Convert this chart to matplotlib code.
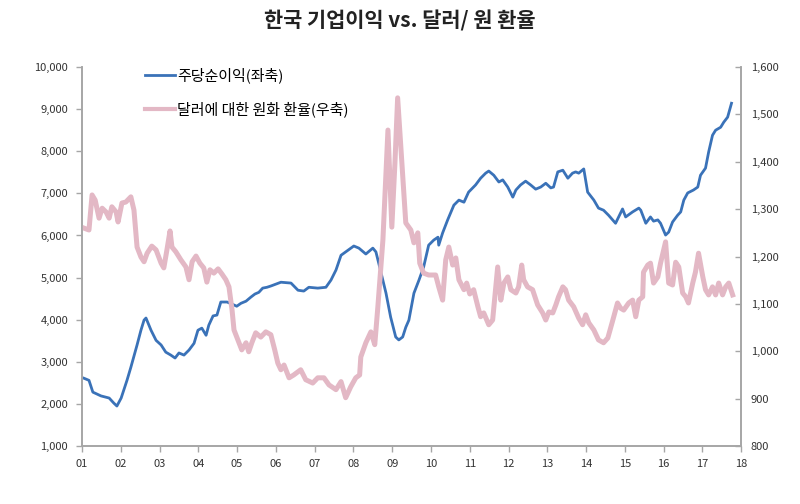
import numpy as np
import matplotlib
matplotlib.use('Agg')
import matplotlib.pyplot as plt
from matplotlib.ticker import FuncFormatter, FixedLocator

plt.rcParams['font.family'] = ['Noto Sans CJK KR', 'DejaVu Sans']

# EPS (left axis), x in decimal years
eps_t = [2001.05, 2001.18, 2001.28, 2001.49, 2001.70, 2001.82, 2001.90, 2002.01, 2002.16, 2002.26,
         2002.42, 2002.52, 2002.60, 2002.65, 2002.78, 2002.91, 2003.04, 2003.16, 2003.29, 2003.40,
         2003.50, 2003.63, 2003.76, 2003.89, 2003.99, 2004.09, 2004.20, 2004.27, 2004.38, 2004.48,
         2004.58, 2004.74, 2004.87, 2004.99, 2005.10, 2005.23, 2005.36, 2005.46, 2005.56, 2005.66,
         2005.77, 2005.87, 2006.13, 2006.39, 2006.57, 2006.72, 2006.85, 2007.08, 2007.29, 2007.42,
         2007.55, 2007.68, 2007.86, 2008.01, 2008.14, 2008.32, 2008.50, 2008.58, 2008.65, 2008.84,
         2008.96, 2009.09, 2009.17, 2009.27, 2009.35, 2009.43, 2009.56, 2009.69, 2009.81, 2009.94,
         2010.07, 2010.18, 2010.20, 2010.30, 2010.43, 2010.59, 2010.72, 2010.85, 2010.97, 2011.15,
         2011.28, 2011.41, 2011.49, 2011.62, 2011.75, 2011.85, 2011.98, 2012.11, 2012.19, 2012.31,
         2012.44, 2012.57, 2012.70, 2012.83, 2012.96, 2013.09, 2013.16, 2013.27, 2013.40, 2013.53,
         2013.65, 2013.73, 2013.81, 2013.94, 2014.04, 2014.20, 2014.32, 2014.45, 2014.58, 2014.76,
         2014.94, 2015.02, 2015.20, 2015.36, 2015.41, 2015.54, 2015.66, 2015.74, 2015.85, 2015.92,
         2016.05, 2016.13, 2016.23, 2016.36, 2016.44, 2016.52, 2016.62, 2016.77, 2016.88, 2016.95,
         2017.08, 2017.16, 2017.26, 2017.34, 2017.47, 2017.55, 2017.65, 2017.75]
eps = [2610, 2560, 2280, 2190, 2140, 2020, 1950, 2140, 2560, 2870,
       3400, 3750, 3990, 4040, 3750, 3510, 3400, 3230, 3160, 3090,
       3210, 3160, 3280, 3440, 3750, 3800, 3630, 3870, 4090, 4110,
       4420, 4420, 4370, 4320, 4390, 4440, 4540, 4610, 4650, 4750,
       4770, 4800, 4890, 4870, 4700, 4680, 4770, 4750, 4770, 4940,
       5180, 5530, 5650, 5750, 5700, 5560, 5700, 5610, 5350, 4630,
       4060, 3590, 3520, 3590, 3820, 3990, 4630, 4940, 5250, 5770,
       5890, 5960, 5770, 6060, 6370, 6720, 6840, 6790, 7030, 7200,
       7360, 7480, 7530, 7430, 7270, 7320, 7150, 6910, 7080, 7200,
       7290, 7200, 7100, 7150, 7240, 7130, 7150, 7510, 7550, 7360,
       7480, 7510, 7480, 7580, 7030, 6840, 6650, 6600, 6480, 6290,
       6630, 6440, 6560, 6650, 6600, 6290, 6440, 6340, 6370, 6290,
       6010, 6080, 6320, 6480, 6560, 6840, 7010, 7080, 7150, 7430,
       7600, 7980, 8380, 8500, 8570, 8690, 8810, 9140]

# KRW per USD (right axis)
fx_t = [2001.05, 2001.18, 2001.26, 2001.34, 2001.44, 2001.52, 2001.62, 2001.70, 2001.77, 2001.88,
        2001.93, 2002.03, 2002.13, 2002.26, 2002.34, 2002.42, 2002.52, 2002.60, 2002.68, 2002.80,
        2002.91, 2003.04, 2003.11, 2003.19, 2003.27, 2003.32, 2003.42, 2003.55, 2003.68, 2003.76,
        2003.84, 2003.94, 2004.04, 2004.14, 2004.22, 2004.30, 2004.40, 2004.51, 2004.61, 2004.71,
        2004.79, 2004.87, 2004.92, 2005.02, 2005.12, 2005.23, 2005.30, 2005.38, 2005.48, 2005.61,
        2005.74, 2005.87, 2005.97, 2006.05, 2006.13, 2006.21, 2006.34, 2006.46, 2006.64, 2006.77,
        2006.95, 2007.08, 2007.24, 2007.37, 2007.55, 2007.68, 2007.80, 2007.93, 2008.06, 2008.16,
        2008.19, 2008.32, 2008.45, 2008.55, 2008.63, 2008.76, 2008.89, 2008.99, 2009.07, 2009.14,
        2009.25, 2009.35, 2009.48, 2009.56, 2009.66, 2009.71, 2009.81, 2009.94, 2010.12, 2010.20,
        2010.30, 2010.38, 2010.46, 2010.56, 2010.64, 2010.72, 2010.85, 2010.92, 2011.00, 2011.10,
        2011.21, 2011.28, 2011.36, 2011.49, 2011.59, 2011.72, 2011.80, 2011.88, 2011.98, 2012.06,
        2012.19, 2012.26, 2012.34, 2012.39, 2012.49, 2012.62, 2012.75, 2012.88, 2012.96, 2013.04,
        2013.14, 2013.22, 2013.29, 2013.40, 2013.47, 2013.55, 2013.68, 2013.81, 2013.91, 2013.99,
        2014.07, 2014.20, 2014.32, 2014.45, 2014.56, 2014.69, 2014.81, 2014.89, 2014.97, 2015.10,
        2015.20, 2015.28, 2015.36, 2015.46, 2015.48, 2015.59, 2015.66, 2015.74, 2015.85, 2015.92,
        2016.05, 2016.13, 2016.23, 2016.31, 2016.39, 2016.49, 2016.57, 2016.64, 2016.75, 2016.82,
        2016.90, 2017.01, 2017.08, 2017.16, 2017.26, 2017.34, 2017.42, 2017.52, 2017.60, 2017.68,
        2017.78]
fx = [1260, 1256, 1330, 1319, 1281, 1302, 1294, 1281, 1305, 1294,
      1273, 1313, 1315, 1326, 1298, 1220, 1199, 1189, 1207, 1222,
      1214, 1186, 1176, 1214, 1254, 1220, 1210, 1193, 1178, 1151,
      1189, 1201, 1186, 1176, 1146, 1172, 1165, 1174, 1163, 1151,
      1136, 1087, 1045, 1024, 1003, 1018, 999, 1018, 1039, 1030,
      1041, 1035, 1003, 975, 961, 971, 944, 950, 961, 940,
      933, 944, 944, 929, 919, 936, 902, 925, 944, 950,
      988, 1018, 1041, 1014, 1094, 1235, 1467, 1262, 1397, 1535,
      1397, 1271, 1256, 1229, 1250, 1186, 1165, 1161, 1161, 1136,
      1108, 1193, 1220, 1182, 1197, 1151, 1130, 1144, 1121, 1130,
      1094, 1073, 1081, 1056, 1066, 1178, 1108, 1144, 1157, 1130,
      1123, 1136, 1182, 1151, 1136, 1130, 1098, 1081, 1066, 1083,
      1081, 1098, 1115, 1136, 1130, 1108, 1094, 1070, 1056, 1077,
      1060, 1045, 1024, 1018, 1028, 1066, 1102, 1091, 1087, 1102,
      1108, 1073, 1108, 1115, 1167, 1182, 1186, 1144, 1157, 1186,
      1231, 1144, 1140, 1188, 1178, 1123, 1115, 1102, 1144, 1167,
      1207, 1157, 1130, 1119, 1136, 1119, 1144, 1119, 1136, 1144,
      1119]

year_ticks = list(range(2001, 2019))

fig = plt.figure(figsize=(8, 5.04), dpi=100)
ax = fig.add_axes([0.1025, 0.115, 0.824, 0.752])
ax2 = ax.twinx()

l1, = ax.plot(eps_t, eps, color='#3a72b8', lw=2.0, label='주당순이익(좌축)')
l2, = ax2.plot(fx_t, fx, color='#e3b8c5', lw=3.6, label='달러에 대한 원화 환율(우축)')

ax.set_xlim(2001, 2018)
ax.set_ylim(1000, 10000)
ax2.set_ylim(800, 1600)
ax.set_yticks(range(1000, 10001, 1000))
ax2.set_yticks(range(800, 1601, 100))
ax.xaxis.set_major_locator(FixedLocator(year_ticks))
ax.xaxis.set_major_formatter(FuncFormatter(lambda v, p: '%02d' % (int(round(v)) % 100)))
ax.yaxis.set_major_formatter(FuncFormatter(lambda v, p: format(int(v), ',')))
ax2.yaxis.set_major_formatter(FuncFormatter(lambda v, p: format(int(v), ',')))

spine_col = '#a6a6a6'
for a in (ax, ax2):
    a.spines['top'].set_visible(False)
    for s in ('left', 'right', 'bottom'):
        a.spines[s].set_color(spine_col)
        a.spines[s].set_linewidth(1.2)
ax.tick_params(axis='both', colors=spine_col, labelcolor='#333333', labelsize=8, length=4, width=1)
ax2.tick_params(axis='y', colors=spine_col, labelcolor='#333333', labelsize=8, length=4, width=1,
                direction='in', pad=7)
ax.tick_params(axis='y', pad=6)
ax.tick_params(axis='x', pad=5)

fig.text(0.5, 1 - 21 / 504, '한국 기업이익 vs. 달러/ 원 환율', ha='center', va='center',
         fontsize=15, fontweight='bold', color='#222222')

leg = ax.legend(handles=[l1, l2], loc='upper left', bbox_to_anchor=(0.075, 1.035), frameon=False,
                fontsize=10.8, handlelength=2.0, handletextpad=0.15, labelspacing=1.2)
leg.get_lines()[0].set_linewidth(2.0)
leg.get_lines()[1].set_linewidth(3.0)

fig.savefig('out.png', dpi=100)
